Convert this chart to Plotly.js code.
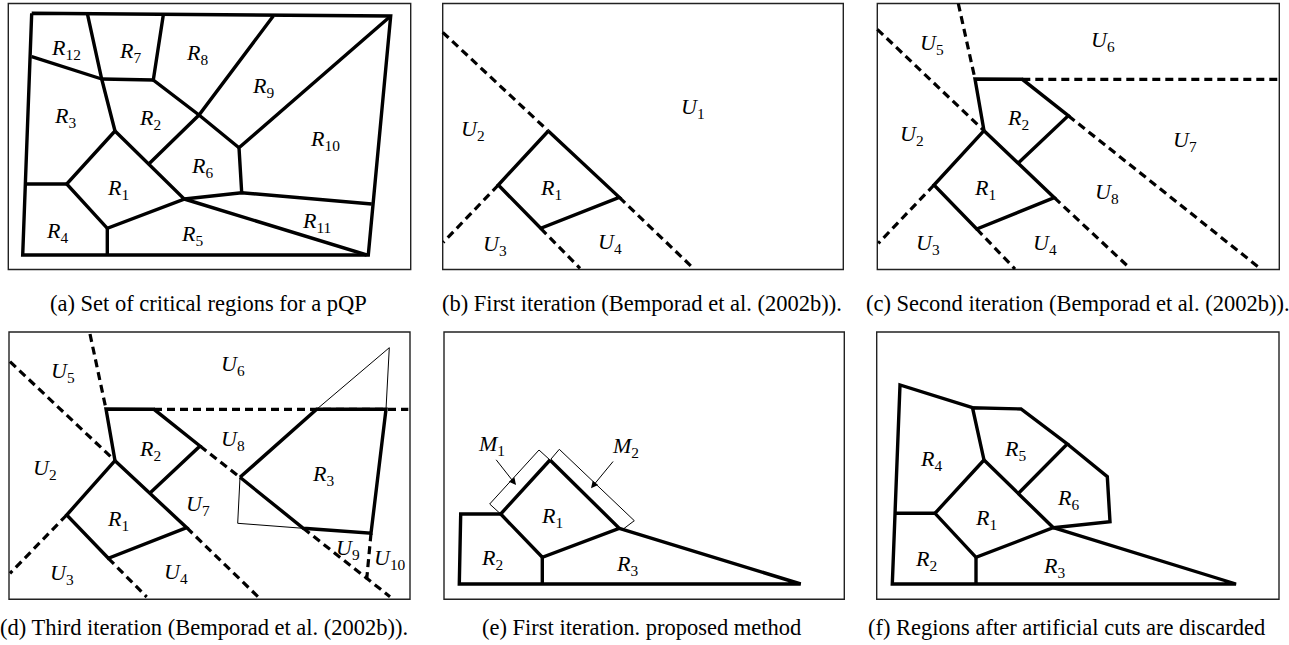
<!DOCTYPE html>
<html>
<head>
<meta charset="utf-8">
<script src="https://cdn.plot.ly/plotly-3.0.1.min.js"></script>
<style>html,body{margin:0;padding:0;background:#fff;}#chart{width:1289px;height:645px;}</style>
</head>
<body>
<div id="chart"></div>
<script>
// ---- Panel frames (page pixel coordinates) ----
const boxX0 = [8.3, 442.7, 877.3, 9, 444, 876.7];
const boxX1 = [410.7, 843.3, 1279.3, 410, 844.3, 1279];
const boxY0 = [3.5, 3.5, 3.5, 332, 332, 332];
const boxY1 = [269.5, 269.5, 269.5, 599.3, 599.3, 599.3];

// ---- Region boundaries: thick solid polylines (null separates pieces) ----
const thickX = [
  // (a)
  31.7,390.7,368.3,22.7,31.7,null, 31.7,101.7,null, 87.3,101.7,115,null, 101.7,153.3,null,
  163.3,153.3,199,239,null, 273.3,199,149.3,null, 390.7,239,241.7,null,
  115,66.7,107.3,184.3,115,null, 184.3,241.7,371.7,null, 184.3,366.7,null, 26,66.7,null, 107.3,107.3,null,
  // (b)
  548.3,619.3,540.7,498.3,548.3,null,
  // (c)
  984,1054.3,976.7,934,984,null, 984,975,1022.3,1068.3,1018.3,null,
  // (d)
  115,186.7,108.3,66.7,115,null, 115,106,154,200,150,null, 240,316.7,386,371,303.3,240,null,
  // (e)
  550,619.3,542.3,500.7,550,null, 500.7,460.7,459.3,800.7,619.3,null, 542.3,542.3,null,
  // (f)
  984,1053.3,976,935,984,null, 935,895,null, 972.5,900,892.3,1236,1053.3,null, 976,976,null,
  984,972.5,1021,1067.3,1018.3,null, 1067.3,1107.3,1110,1053.3,null
];
const thickY = [
  // (a)
  13.3,16,255,255,13.3,null, 56.7,79,null, 13.3,79,131,null, 79,80,null,
  15,80,115,147.7,null, 16,115,163.5,null, 16,147.7,192.7,null,
  131,184,228.3,199,131,null, 199,192.7,204,null, 199,255,null, 184,184,null, 228.3,255,null,
  // (b)
  131,197.3,228.3,185,131,null,
  // (c)
  130.7,197.7,229,185,130.7,null, 130.7,79,79.3,115.7,163,null,
  // (d)
  460.7,527.7,558.3,515,460.7,null, 460.7,409,409.3,446,493,null, 477.3,409.3,409.3,533.3,528.3,477.3,null,
  // (e)
  460,528.3,557.3,514,460,null, 514,514,584,584,528.3,null, 557.3,584,null,
  // (f)
  460,527.7,557.3,513.3,460,null, 513.3,513.3,null, 407.7,385,584,584,527.7,null, 557.3,584,null,
  460,407.7,409,444,493.5,null, 444,476.7,521.7,527.7,null
];

// ---- Unexplored-region cuts: dashed polylines ----
const dashX = [
  // (b)
  442.7,548.3,null, 619.3,691.7,null, 498.3,443.3,null, 540.7,580,null,
  // (c)
  877.3,984,null, 1054.3,1128.3,null, 934,878.3,null, 976.7,1015,null,
  958.3,975,null, 1022.3,1279.3,null, 1068.3,1260,null,
  // (d)
  10,115,null, 90,106,null, 154,408.3,null, 200,240,null, 303.3,390,null,
  186.7,258.3,null, 66.7,10,null, 108.3,146.7,null, 371,366.7,null
];
const dashY = [
  // (b)
  32.3,131,null, 197.3,266.7,null, 185,242.3,null, 228.3,268.3,null,
  // (c)
  29.3,130.7,null, 197.7,266.7,null, 185,243.3,null, 229,269,null,
  3.5,79,null, 79.3,79.3,null, 115.7,268.3,null,
  // (d)
  361.7,460.7,null, 334,409,null, 409.3,409.3,null, 446,477.3,null, 528.3,596.7,null,
  527.7,597,null, 515,573.3,null, 558.3,597,null, 533.3,579.3,null
];

// ---- Artificial cuts / measure boxes: thin polylines ----
const thinX = [
  // (d)
  316.7,389.3,386,null, 240,237.7,303.3,null,
  // (e)
  500.7,489.7,539,550,null, 551,559.3,634.3,622,null
];
const thinY = [
  // (d)
  409.3,347.7,409.3,null, 477.3,523.3,528.3,null,
  // (e)
  514,504,450,460,null, 459,449.3,520.7,530,null
];

// ---- Arrows (tail -> head) ----
const arrowTailX = [495, 614.3];
const arrowTailY = [458.3, 460];
const arrowHeadX = [516, 591];
const arrowHeadY = [485, 488.3];

// ---- Region labels ----
const labelSym = [
  'R','R','R','R','R','R','R','R','R','R','R','R',
  'U','U','R','U','U',
  'U','U','R','U','U','R','U','U','U',
  'U','U','R','U','U','R','U','R','U','U','U','U',
  'M','M','R','R','R',
  'R','R','R','R','R','R'
];
const labelSub = [
  '12','7','8','9','3','2','10','6','1','11','4','5',
  '1','2','1','3','4',
  '5','6','2','2','7','1','8','3','4',
  '5','6','2','8','2','3','7','1','9','10','3','4',
  '1','2','1','2','3',
  '4','5','6','1','2','3'
];
const labelX = [
  65.7,130,196.7,263.3,65,150,325,201.7,118.3,316.7,56.7,191.7,
  693.3,472.7,550.7,495,610,
  931.7,1103.3,1018.3,911.7,1185,985,1106.7,928.3,1045,
  63.3,233.3,150,233.3,45,323.3,198.3,118.3,348.3,390,61.7,176,
  491.7,625,551.7,491.7,626.7,
  930.7,1015,1068.3,986,926,1054.3
];
const labelY = [
  46.7,50,51.7,85,115,116.7,138.3,165,186.7,220,230,233.3,
  106,128.3,186.7,242.7,240.7,
  41.7,39.3,116.7,133.3,139.3,187.3,191,241.7,241.7,
  370,363.3,448.3,438.3,466.7,473.3,503.3,518.3,546.7,556.7,571.7,570.7,
  443.3,445,515,556.7,562.7,
  458.3,448.3,496.7,516.7,558.3,565
];

// ---- Sub-figure captions ----
const captions = [
  '(a) Set of critical regions for a pQP',
  '(b) First iteration (Bemporad et al. (2002b)).',
  '(c) Second iteration (Bemporad et al. (2002b)).',
  '(d) Third iteration (Bemporad et al. (2002b)).',
  '(e) First iteration. proposed method',
  '(f) Regions after artificial cuts are discarded'
];
const captionX = [208.5, 642, 1078, 204, 641, 1066.5];
const captionY = [303, 303, 303, 627, 627, 627];

// ---- Build figure ----
const serif = 'Liberation Serif, Times New Roman, serif';
const traces = [
  {x: dashX, y: dashY, mode: 'lines', line: {color: '#000', width: 3.2, dash: '8px,5px'}, hoverinfo: 'skip'},
  {x: thinX, y: thinY, mode: 'lines', line: {color: '#000', width: 1}, hoverinfo: 'skip'},
  {x: thickX, y: thickY, mode: 'lines', line: {color: '#000', width: 3.4}, hoverinfo: 'skip'}
];

const shapes = boxX0.map((x0, i) => ({
  type: 'rect', xref: 'x', yref: 'y', x0: x0, x1: boxX1[i], y0: boxY0[i], y1: boxY1[i],
  line: {color: '#222', width: 1.4}, fillcolor: 'rgba(0,0,0,0)', layer: 'below'
}));

const annotations = [];
labelSym.forEach((s, i) => {
  annotations.push({
    x: labelX[i], y: labelY[i] + 2, xref: 'x', yref: 'y', showarrow: false,
    xanchor: 'center', yanchor: 'middle',
    text: '<i>' + s + '</i><sub>' + labelSub[i] + '</sub>',
    font: {family: serif, size: 22, color: '#000'}
  });
});
captions.forEach((c, i) => {
  annotations.push({
    x: captionX[i], y: captionY[i], xref: 'x', yref: 'y', showarrow: false,
    xanchor: 'center', yanchor: 'middle', text: c,
    font: {family: serif, size: 22.5, color: '#000'}
  });
});
arrowTailX.forEach((tx, i) => {
  annotations.push({
    x: arrowHeadX[i], y: arrowHeadY[i], ax: tx, ay: arrowTailY[i],
    xref: 'x', yref: 'y', axref: 'x', ayref: 'y', text: '', showarrow: true,
    arrowhead: 2, arrowsize: 1.4, arrowwidth: 1, arrowcolor: '#000', standoff: 0
  });
});

const layout = {
  width: 1289, height: 645,
  margin: {l: 0, r: 0, t: 0, b: 0, pad: 0},
  paper_bgcolor: '#fff', plot_bgcolor: '#fff',
  showlegend: false,
  xaxis: {range: [0, 1289], visible: false, fixedrange: true},
  yaxis: {range: [645, 0], visible: false, fixedrange: true},
  shapes: shapes,
  annotations: annotations
};

Plotly.newPlot('chart', traces, layout, {displayModeBar: false, staticPlot: true});
</script>
</body>
</html>
